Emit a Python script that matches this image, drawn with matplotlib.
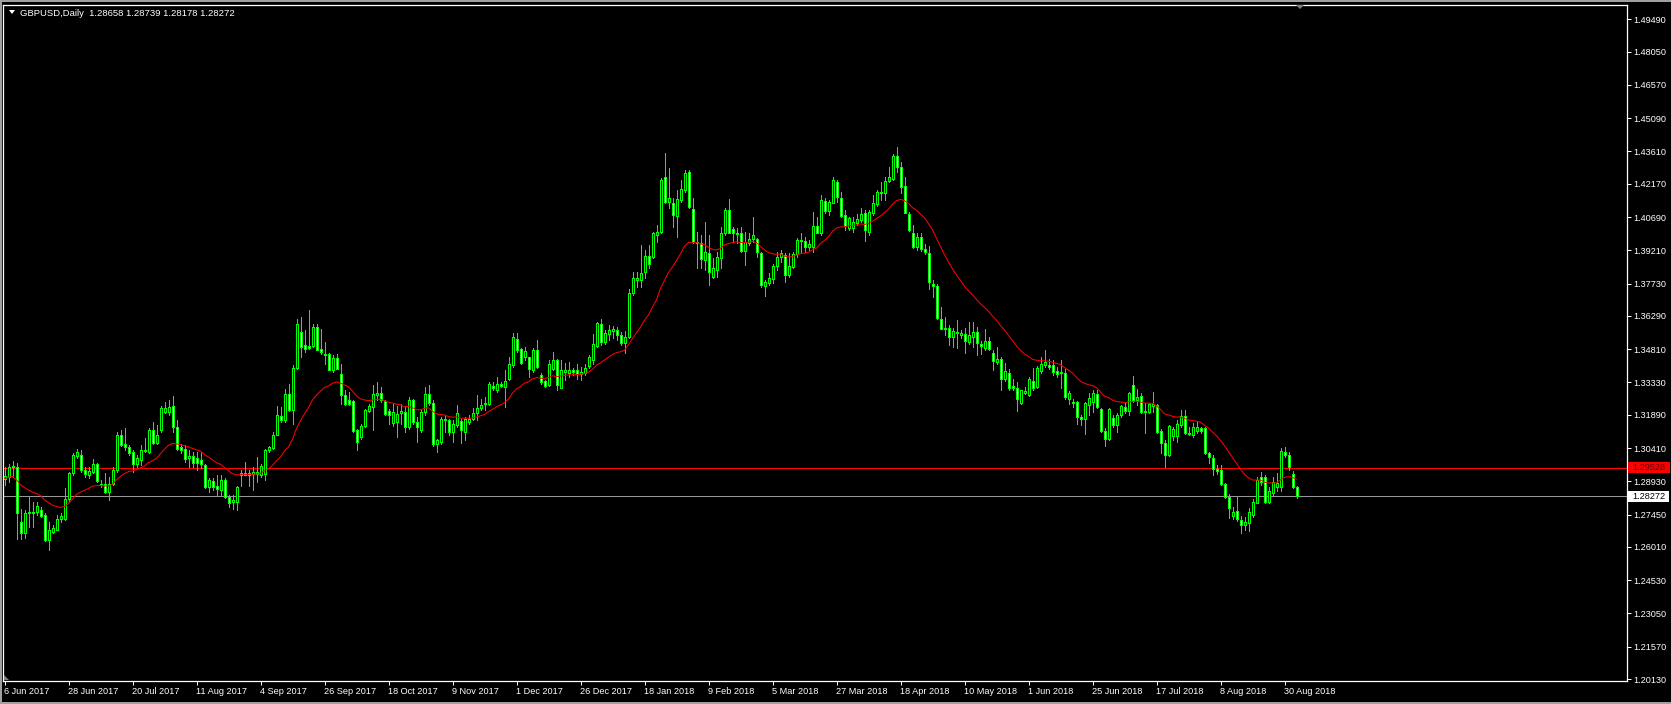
#!/usr/bin/env python3

import numpy as np
import pandas as pd
import matplotlib
matplotlib.use("Agg")
import matplotlib.pyplot as plt
from matplotlib.patches import Rectangle, Polygon


# -----------------------------------------------------------------------------
# GBPUSD daily candles, MetaTrader "green on black" look, with EMA(20),
# a user horizontal line and the bid line.
# -----------------------------------------------------------------------------

W, H = 1671, 704

SYMBOL = "GBPUSD,Daily"
LAST_BAR = "1.28658 1.28739 1.28178 1.28272"

# daily bars 6 Jun 2017 .. 4 Sep 2018
OPENS = [
    1.2901, 1.2910, 1.2963, 1.2955, 1.2713, 1.2661, 1.2755, 1.2752, 1.2757, 1.2765,
    1.2742, 1.2631, 1.2668, 1.2678, 1.2723, 1.2723, 1.2812, 1.2928, 1.3006, 1.3012,
    1.2943, 1.2919, 1.2935, 1.2972, 1.2883, 1.2883, 1.2846, 1.2883, 1.2943, 1.3098,
    1.3058, 1.3046, 1.3023, 1.2972, 1.2987, 1.3029, 1.3024, 1.3121, 1.3064, 1.3121,
    1.3202, 1.3202, 1.3228, 1.3136, 1.3044, 1.3035, 1.2995, 1.3005, 1.2995, 1.2987,
    1.2965, 1.2868, 1.2894, 1.2871, 1.2852, 1.2900, 1.2825, 1.2799, 1.2800, 1.2923,
    1.2923, 1.2931, 1.2926, 1.2926, 1.2923, 1.2926, 1.3033, 1.3042, 1.3101, 1.3182,
    1.3164, 1.3282, 1.3211, 1.3398, 1.3557, 1.3498, 1.3493, 1.3493, 1.3579, 1.3483,
    1.3458, 1.3458, 1.3389, 1.3443, 1.3371, 1.3275, 1.3253, 1.3250, 1.3119, 1.3090,
    1.3138, 1.3205, 1.3223, 1.3275, 1.3285, 1.3250, 1.3205, 1.3152, 1.3156, 1.3196,
    1.3201, 1.3134, 1.3256, 1.3156, 1.3119, 1.3201, 1.3282, 1.3241, 1.3061, 1.3068,
    1.3172, 1.3165, 1.3113, 1.3143, 1.3160, 1.3113, 1.3158, 1.3172, 1.3195, 1.3217,
    1.3236, 1.3239, 1.3319, 1.3301, 1.3325, 1.3313, 1.3346, 1.3410, 1.3524, 1.3480,
    1.3447, 1.3444, 1.3388, 1.3477, 1.3368, 1.3340, 1.3321, 1.3391, 1.3432, 1.3310,
    1.3380, 1.3377, 1.3388, 1.3388, 1.3370, 1.3376, 1.3405, 1.3432, 1.3494, 1.3592,
    1.3514, 1.3548, 1.3563, 1.3566, 1.3543, 1.3509, 1.3533, 1.3729, 1.3788, 1.3788,
    1.3825, 1.3895, 1.3890, 1.3989, 1.4004, 1.4246, 1.4137, 1.4133, 1.4074, 1.4145,
    1.4189, 1.4268, 1.4103, 1.3959, 1.3952, 1.3878, 1.3907, 1.3804, 1.3833, 1.3885,
    1.3996, 1.4100, 1.4014, 1.3999, 1.3996, 1.3919, 1.3955, 1.3970, 1.3970, 1.3907,
    1.3762, 1.3774, 1.3792, 1.3851, 1.3893, 1.3900, 1.3811, 1.3848, 1.3904, 1.3964,
    1.3964, 1.3937, 1.3934, 1.4029, 1.3996, 1.4142, 1.4097, 1.4133, 1.4226, 1.4152,
    1.4078, 1.4019, 1.4019, 1.4041, 1.4056, 1.4086, 1.4003, 1.4085, 1.4127, 1.4177,
    1.4174, 1.4230, 1.4236, 1.4340, 1.4290, 1.4207, 1.4082, 1.3999, 1.3934, 1.3978,
    1.3928, 1.3910, 1.3770, 1.3761, 1.3613, 1.3572, 1.3573, 1.3536, 1.3558, 1.3543,
    1.3548, 1.3512, 1.3536, 1.3558, 1.3503, 1.3484, 1.3518, 1.3465, 1.3425, 1.3435,
    1.3346, 1.3373, 1.3319, 1.3310, 1.3242, 1.3287, 1.3276, 1.3340, 1.3313, 1.3385,
    1.3410, 1.3410, 1.3410, 1.3385, 1.3380, 1.3376, 1.3261, 1.3247, 1.3247, 1.3180,
    1.3172, 1.3233, 1.3247, 1.3282, 1.3213, 1.3118, 1.3080, 1.3173, 1.3144, 1.3188,
    1.3222, 1.3207, 1.3322, 1.3255, 1.3273, 1.3207, 1.3203, 1.3228, 1.3233, 1.3118,
    1.3065, 1.3010, 1.3095, 1.3095, 1.3144, 1.3184, 1.3107, 1.3099, 1.3118, 1.3129,
    1.3129, 1.3017, 1.2998, 1.2949, 1.2943, 1.2879, 1.2825, 1.2739, 1.2762, 1.2721,
    1.2698, 1.2709, 1.2743, 1.2798, 1.2914, 1.2911, 1.2802, 1.2839, 1.2869, 1.2869,
    1.3025, 1.3010, 1.2925, 1.28658,
]

HIGHS = [
    1.2957, 1.2972, 1.2984, 1.2975, 1.2768, 1.2765, 1.2824, 1.2802, 1.2802, 1.2779,
    1.2750, 1.2713, 1.2698, 1.2742, 1.2750, 1.2861, 1.2935, 1.3017, 1.3035, 1.3032,
    1.2957, 1.2957, 1.2990, 1.2975, 1.2898, 1.2928, 1.2913, 1.2957, 1.3113, 1.3121,
    1.3128, 1.3054, 1.3032, 1.3009, 1.3054, 1.3084, 1.3128, 1.3158, 1.3143, 1.3228,
    1.3247, 1.3254, 1.3272, 1.3165, 1.3058, 1.3054, 1.3032, 1.3024, 1.3024, 1.3024,
    1.2972, 1.2906, 1.2906, 1.2920, 1.2919, 1.2908, 1.2830, 1.2830, 1.2874, 1.2944,
    1.2978, 1.2941, 1.2956, 1.3000, 1.2971, 1.3038, 1.3052, 1.3112, 1.3226, 1.3223,
    1.3305, 1.3327, 1.3409, 1.3616, 1.3624, 1.3564, 1.3656, 1.3594, 1.3591, 1.3572,
    1.3512, 1.3464, 1.3453, 1.3461, 1.3416, 1.3297, 1.3290, 1.3253, 1.3127, 1.3149,
    1.3216, 1.3238, 1.3320, 1.3334, 1.3312, 1.3253, 1.3216, 1.3238, 1.3230, 1.3238,
    1.3223, 1.3268, 1.3260, 1.3179, 1.3208, 1.3312, 1.3320, 1.3253, 1.3083, 1.3180,
    1.3187, 1.3172, 1.3165, 1.3232, 1.3172, 1.3180, 1.3187, 1.3217, 1.3276, 1.3261,
    1.3269, 1.3336, 1.3336, 1.3358, 1.3336, 1.3388, 1.3447, 1.3551, 1.3554, 1.3484,
    1.3491, 1.3447, 1.3484, 1.3521, 1.3373, 1.3343, 1.3432, 1.3469, 1.3435, 1.3432,
    1.3420, 1.3425, 1.3399, 1.3417, 1.3402, 1.3417, 1.3454, 1.3548, 1.3603, 1.3613,
    1.3566, 1.3588, 1.3583, 1.3580, 1.3558, 1.3563, 1.3747, 1.3825, 1.3825, 1.3944,
    1.3922, 1.3944, 1.4004, 1.4034, 1.4241, 1.4353, 1.4286, 1.4152, 1.4189, 1.4234,
    1.4278, 1.4278, 1.4152, 1.4004, 1.3989, 1.4048, 1.3989, 1.3885, 1.3915, 1.4026,
    1.4108, 1.4148, 1.4026, 1.4019, 1.4026, 1.4004, 1.3996, 1.4071, 1.3974, 1.3915,
    1.3789, 1.3818, 1.3860, 1.3915, 1.3922, 1.3907, 1.3907, 1.3915, 1.3974, 1.3996,
    1.3979, 1.3967, 1.4093, 1.4071, 1.4167, 1.4152, 1.4145, 1.4249, 1.4234, 1.4182,
    1.4100, 1.4071, 1.4071, 1.4083, 1.4108, 1.4100, 1.4100, 1.4167, 1.4189, 1.4226,
    1.4248, 1.4293, 1.4349, 1.4379, 1.4315, 1.4245, 1.4092, 1.4033, 1.3996, 1.3999,
    1.3951, 1.3940, 1.3788, 1.3770, 1.3670, 1.3625, 1.3588, 1.3573, 1.3610, 1.3566,
    1.3573, 1.3603, 1.3603, 1.3580, 1.3518, 1.3569, 1.3536, 1.3477, 1.3491, 1.3447,
    1.3420, 1.3391, 1.3346, 1.3336, 1.3301, 1.3313, 1.3358, 1.3399, 1.3405, 1.3447,
    1.3477, 1.3435, 1.3432, 1.3402, 1.3432, 1.3391, 1.3296, 1.3257, 1.3251, 1.3187,
    1.3247, 1.3285, 1.3299, 1.3299, 1.3218, 1.3129, 1.3218, 1.3188, 1.3196, 1.3233,
    1.3240, 1.3292, 1.3362, 1.3302, 1.3285, 1.3240, 1.3243, 1.3292, 1.3237, 1.3124,
    1.3077, 1.3144, 1.3133, 1.3166, 1.3210, 1.3210, 1.3133, 1.3154, 1.3158, 1.3136,
    1.3133, 1.3025, 1.3010, 1.2965, 1.2965, 1.2884, 1.2836, 1.2780, 1.2827, 1.2738,
    1.2735, 1.2773, 1.2813, 1.2911, 1.2936, 1.2921, 1.2869, 1.2914, 1.2928, 1.3040,
    1.3044, 1.3025, 1.2940, 1.28739,
]

LOWS = [
    1.2876, 1.2891, 1.2913, 1.2638, 1.2638, 1.2640, 1.2690, 1.2690, 1.2742, 1.2735,
    1.2628, 1.2586, 1.2661, 1.2675, 1.2713, 1.2720, 1.2802, 1.2920, 1.2995, 1.2935,
    1.2913, 1.2906, 1.2928, 1.2891, 1.2868, 1.2839, 1.2809, 1.2876, 1.2935, 1.3049,
    1.3032, 1.3009, 1.2935, 1.2957, 1.2965, 1.3024, 1.3017, 1.3061, 1.3061, 1.3113,
    1.3195, 1.3187, 1.3113, 1.3032, 1.3017, 1.2980, 1.2957, 1.2957, 1.2943, 1.2950,
    1.2861, 1.2846, 1.2854, 1.2831, 1.2830, 1.2819, 1.2778, 1.2770, 1.2763, 1.2874,
    1.2919, 1.2874, 1.2852, 1.2889, 1.2911, 1.2897, 1.3023, 1.3038, 1.3097, 1.3156,
    1.3156, 1.3205, 1.3149, 1.3394, 1.3446, 1.3468, 1.3483, 1.3490, 1.3475, 1.3460,
    1.3416, 1.3386, 1.3379, 1.3394, 1.3238, 1.3231, 1.3231, 1.3112, 1.3030, 1.3082,
    1.3134, 1.3201, 1.3119, 1.3253, 1.3245, 1.3186, 1.3149, 1.3141, 1.3090, 1.3149,
    1.3112, 1.3127, 1.3149, 1.3067, 1.3112, 1.3186, 1.3231, 1.3052, 1.3024, 1.3061,
    1.3113, 1.3098, 1.3068, 1.3135, 1.3064, 1.3076, 1.3150, 1.3165, 1.3165, 1.3210,
    1.3210, 1.3232, 1.3299, 1.3291, 1.3313, 1.3224, 1.3343, 1.3402, 1.3469, 1.3414,
    1.3432, 1.3358, 1.3380, 1.3395, 1.3328, 1.3313, 1.3316, 1.3388, 1.3299, 1.3306,
    1.3343, 1.3358, 1.3365, 1.3350, 1.3343, 1.3365, 1.3399, 1.3417, 1.3491, 1.3499,
    1.3506, 1.3521, 1.3529, 1.3521, 1.3499, 1.3465, 1.3529, 1.3721, 1.3756, 1.3759,
    1.3796, 1.3840, 1.3885, 1.3959, 1.3996, 1.4130, 1.4108, 1.4026, 1.3982, 1.4137,
    1.4182, 1.4108, 1.3955, 1.3841, 1.3841, 1.3833, 1.3766, 1.3796, 1.3804, 1.3841,
    1.3989, 1.3996, 1.3959, 1.3952, 1.3915, 1.3856, 1.3945, 1.3959, 1.3893, 1.3759,
    1.3717, 1.3766, 1.3774, 1.3833, 1.3870, 1.3781, 1.3804, 1.3841, 1.3893, 1.3915,
    1.3915, 1.3919, 1.3915, 1.3996, 1.3989, 1.4088, 1.4078, 1.4130, 1.4137, 1.4068,
    1.4011, 1.4011, 1.4004, 1.4034, 1.4048, 1.3964, 1.3989, 1.4078, 1.4118, 1.4144,
    1.4144, 1.4226, 1.4233, 1.4271, 1.4174, 1.4085, 1.4008, 1.3929, 1.3922, 1.3919,
    1.3904, 1.3747, 1.3714, 1.3613, 1.3569, 1.3543, 1.3499, 1.3491, 1.3484, 1.3529,
    1.3462, 1.3506, 1.3491, 1.3454, 1.3459, 1.3477, 1.3477, 1.3388, 1.3417, 1.3301,
    1.3340, 1.3301, 1.3301, 1.3206, 1.3236, 1.3281, 1.3272, 1.3299, 1.3306, 1.3373,
    1.3402, 1.3391, 1.3365, 1.3355, 1.3306, 1.3261, 1.3239, 1.3224, 1.3150, 1.3143,
    1.3104, 1.3188, 1.3203, 1.3218, 1.3114, 1.3050, 1.3077, 1.3136, 1.3114, 1.3181,
    1.3196, 1.3188, 1.3247, 1.3233, 1.3198, 1.3107, 1.3196, 1.3203, 1.3107, 1.3017,
    1.2955, 1.3006, 1.3077, 1.3069, 1.3136, 1.3104, 1.3099, 1.3092, 1.3109, 1.3107,
    1.3014, 1.2976, 1.2921, 1.2925, 1.2877, 1.2817, 1.2728, 1.2724, 1.2718, 1.2664,
    1.2676, 1.2673, 1.2735, 1.2795, 1.2877, 1.2798, 1.2798, 1.2832, 1.2851, 1.2851,
    1.2999, 1.2943, 1.2862, 1.28178,
]

CLOSES = [
    1.2916, 1.2957, 1.2955, 1.2750, 1.2661, 1.2753, 1.2750, 1.2757, 1.2782, 1.2739,
    1.2631, 1.2675, 1.2687, 1.2723, 1.2738, 1.2812, 1.2928, 1.3009, 1.3024, 1.2943,
    1.2925, 1.2940, 1.2972, 1.2894, 1.2880, 1.2846, 1.2883, 1.2943, 1.3098, 1.3054,
    1.3044, 1.3020, 1.2972, 1.2995, 1.3032, 1.3032, 1.3121, 1.3064, 1.3098, 1.3217,
    1.3217, 1.3225, 1.3136, 1.3035, 1.3032, 1.2990, 1.3005, 1.2975, 1.2975, 1.2969,
    1.2868, 1.2898, 1.2868, 1.2857, 1.2900, 1.2822, 1.2796, 1.2808, 1.2867, 1.2932,
    1.2932, 1.2920, 1.2935, 1.2934, 1.2962, 1.3033, 1.3045, 1.3101, 1.3189, 1.3164,
    1.3282, 1.3211, 1.3398, 1.3591, 1.3490, 1.3483, 1.3486, 1.3579, 1.3478, 1.3468,
    1.3455, 1.3389, 1.3443, 1.3394, 1.3275, 1.3238, 1.3235, 1.3116, 1.3067, 1.3138,
    1.3208, 1.3226, 1.3282, 1.3285, 1.3253, 1.3193, 1.3186, 1.3201, 1.3193, 1.3204,
    1.3134, 1.3256, 1.3156, 1.3134, 1.3201, 1.3282, 1.3241, 1.3060, 1.3076, 1.3172,
    1.3165, 1.3113, 1.3150, 1.3195, 1.3120, 1.3168, 1.3172, 1.3195, 1.3217, 1.3232,
    1.3242, 1.3328, 1.3310, 1.3328, 1.3316, 1.3340, 1.3413, 1.3533, 1.3477, 1.3420,
    1.3474, 1.3391, 1.3477, 1.3402, 1.3336, 1.3316, 1.3417, 1.3432, 1.3321, 1.3388,
    1.3388, 1.3388, 1.3379, 1.3370, 1.3380, 1.3399, 1.3444, 1.3502, 1.3598, 1.3514,
    1.3554, 1.3566, 1.3569, 1.3543, 1.3509, 1.3536, 1.3733, 1.3796, 1.3796, 1.3821,
    1.3895, 1.3862, 1.3996, 1.4001, 1.4234, 1.4137, 1.4152, 1.4078, 1.4148, 1.4192,
    1.4264, 1.4112, 1.3959, 1.3952, 1.3881, 1.3915, 1.3826, 1.3841, 1.3893, 1.3996,
    1.4100, 1.3999, 1.3999, 1.3993, 1.3919, 1.3959, 1.3970, 1.3988, 1.3915, 1.3766,
    1.3781, 1.3796, 1.3851, 1.3893, 1.3907, 1.3811, 1.3851, 1.3904, 1.3967, 1.3967,
    1.3934, 1.3949, 1.4029, 1.3999, 1.4145, 1.4097, 1.4137, 1.4234, 1.4160, 1.4074,
    1.4029, 1.4063, 1.4048, 1.4059, 1.4083, 1.4011, 1.4092, 1.4130, 1.4181, 1.4181,
    1.4229, 1.4245, 1.4340, 1.4293, 1.4204, 1.4088, 1.4011, 1.3934, 1.3981, 1.3925,
    1.3914, 1.3781, 1.3761, 1.3618, 1.3572, 1.3577, 1.3536, 1.3563, 1.3551, 1.3554,
    1.3518, 1.3543, 1.3557, 1.3509, 1.3494, 1.3518, 1.3480, 1.3429, 1.3438, 1.3350,
    1.3385, 1.3310, 1.3310, 1.3257, 1.3299, 1.3296, 1.3350, 1.3310, 1.3395, 1.3414,
    1.3425, 1.3402, 1.3380, 1.3370, 1.3373, 1.3266, 1.3284, 1.3242, 1.3177, 1.3172,
    1.3243, 1.3262, 1.3285, 1.3222, 1.3118, 1.3080, 1.3213, 1.3144, 1.3188, 1.3228,
    1.3207, 1.3285, 1.3255, 1.3270, 1.3203, 1.3203, 1.3237, 1.3236, 1.3114, 1.3065,
    1.3010, 1.3139, 1.3124, 1.3148, 1.3184, 1.3107, 1.3104, 1.3133, 1.3133, 1.3118,
    1.3017, 1.3003, 1.2946, 1.2940, 1.2879, 1.2822, 1.2773, 1.2758, 1.2724, 1.2698,
    1.2713, 1.2758, 1.2802, 1.2899, 1.2891, 1.2802, 1.2851, 1.2891, 1.2887, 1.3029,
    1.3010, 1.2955, 1.2869, 1.28272,
]

MA_PERIOD = 20          # red line: exponential MA of closes
MA_FIRST = 1.2906       # its value at the first visible bar
HLINE = 1.29528         # user drawn horizontal line
BID = 1.28272

PRICE_TICKS = [1.49490, 1.48050, 1.46570, 1.45090, 1.43610, 1.42170, 1.40690,
               1.39210, 1.37730, 1.36290, 1.34810, 1.33330, 1.31890, 1.30410,
               1.28930, 1.27450, 1.26010, 1.24530, 1.23050, 1.21570, 1.20130]

DATE_STEP = 16

# colours
GREEN = "#00FF00"
RED = "#FF0000"
BIDGREY = "#969696"
FRAME = "#A0A0A0"
FONT = ["Liberation Sans", "DejaVu Sans"]


def fx(x):
    return x / W


def fy(y):
    # y measured from the top of the image in pixels
    return 1 - y / H


def ema(values, period, first):
    k = 2.0 / (period + 1)
    out = [first]
    for v in values[1:]:
        out.append(out[-1] + k * (v - out[-1]))
    return np.array(out)


def main():
    n = len(CLOSES)
    assert len(OPENS) == len(HIGHS) == len(LOWS) == n, (len(OPENS), len(HIGHS), len(LOWS), n)

    dates = pd.bdate_range("2017-06-06", "2018-09-04")
    dates = dates[~dates.isin(pd.to_datetime(["2017-12-25", "2018-01-01"]))]
    assert len(dates) == n, len(dates)

    o = np.array(OPENS)
    h = np.array(HIGHS)
    l = np.array(LOWS)
    c = np.array(CLOSES)
    x = np.arange(n)

    plt.rcParams["font.family"] = FONT

    fig = plt.figure(figsize=(W / 100, H / 100), dpi=100, facecolor="black")
    # plot frame: left 3px, right 1627px, top 5px, bottom 681px
    ax = fig.add_axes([fx(3), fy(681), fx(1627 - 3), (681 - 5) / H])
    ax.set_facecolor("black")

    px_per_bar = 4.0
    ax.set_xlim((3 - 4.5) / px_per_bar, (1627 - 4.5) / px_per_bar)
    ppu = 2247.0  # pixels per price unit
    ax.set_ylim(1.20130 - 2 / ppu, 1.20130 + 674 / ppu)

    # wicks
    ax.vlines(x, l, h, colors=GREEN, linewidth=0.72, zorder=2, antialiased=False)

    # bodies: bull hollow (black), bear filled white
    bull = c >= o
    bottoms = np.minimum(o, c)
    heights = np.abs(c - o)
    fills = np.where(bull, "black", "white")
    ax.bar(x, heights, bottom=bottoms, width=0.5, color=fills,
           edgecolor=GREEN, linewidth=0.72, zorder=3, antialiased=False)

    # moving average
    ma = ema(c, MA_PERIOD, MA_FIRST)
    ax.plot(x, ma, color=RED, linewidth=0.75, zorder=4)

    # horizontal line and bid line
    ax.axhline(HLINE, color=RED, linewidth=0.75, zorder=1)
    ax.axhline(BID, color=BIDGREY, linewidth=0.75, zorder=1)

    for s in ax.spines.values():
        s.set_color("white")
        s.set_linewidth(0.9)

    # price scale on the right
    ax.yaxis.tick_right()
    ax.set_yticks(PRICE_TICKS)
    ax.set_yticklabels([f"{p:.5f}" for p in PRICE_TICKS])
    ax.tick_params(axis="y", colors="white", direction="out", length=3,
                   width=0.72, pad=1.5, labelsize=6.6)

    # date scale
    idx = list(range(0, n, DATE_STEP))
    ax.set_xticks(idx)
    ax.set_xticklabels([f"{dates[i].day} {dates[i].strftime('%b %Y')}" for i in idx],
                       ha="left")
    ax.tick_params(axis="x", colors="white", direction="out", length=3,
                   width=0.72, pad=1.0, labelsize=6.6)

    # price boxes on the scale
    y_hl = 679 - (HLINE - 1.20130) * ppu
    y_bid = 679 - (BID - 1.20130) * ppu
    fig.add_artist(Rectangle((fx(1628), fy(y_hl + 5.5)), fx(42), 11 / H,
                             transform=fig.transFigure, facecolor=RED,
                             edgecolor="none", zorder=5))
    fig.text(fx(1632), fy(y_hl), f"{HLINE:.5f}", color="#600000", fontsize=6.6,
             va="center", ha="left", zorder=6)
    fig.add_artist(Rectangle((fx(1628), fy(y_bid + 5.5)), fx(41), 11 / H,
                             transform=fig.transFigure, facecolor="white",
                             edgecolor="none", zorder=5))
    fig.text(fx(1632), fy(y_bid), f"{BID:.5f}", color="black", fontsize=6.6,
             va="center", ha="left", zorder=6)

    # header
    fig.add_artist(Polygon([(fx(9), fy(10)), (fx(15), fy(10)), (fx(12), fy(14))],
                           closed=True, transform=fig.transFigure,
                           facecolor="white", edgecolor="none"))
    fig.text(fx(20), fy(13), f"{SYMBOL}  {LAST_BAR}", color="white",
             fontsize=6.8, va="center", ha="left")

    # chart shift marker and window edges
    fig.add_artist(Polygon([(fx(1296), fy(5)), (fx(1304), fy(5)), (fx(1300), fy(9))],
                           closed=True, transform=fig.transFigure,
                           facecolor="#808080", edgecolor="none"))
    fig.add_artist(Polygon([(fx(4), fy(675)), (fx(4), fy(680)), (fx(9), fy(680))],
                           closed=True, transform=fig.transFigure,
                           facecolor="#808080", edgecolor="none"))
    for rect in [(0, 0, W, 2), (0, 0, 2, H), (0, H - 2, W, 2)]:
        x0, y0, w, hh = rect
        fig.add_artist(Rectangle((fx(x0), fy(y0 + hh)), fx(w), hh / H,
                                 transform=fig.transFigure, facecolor=FRAME,
                                 edgecolor="none"))

    fig.savefig("out.png", dpi=100, facecolor="black")
    plt.close(fig)


if __name__ == "__main__":
    main()
